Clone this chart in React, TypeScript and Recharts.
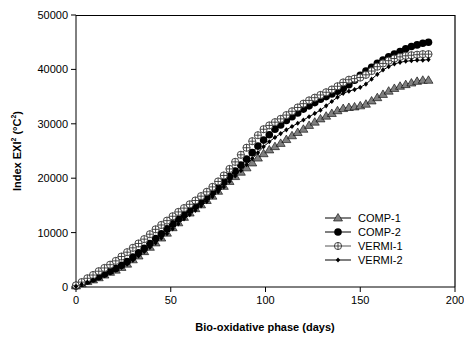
import React from "react";
import { LineChart, Line, XAxis, YAxis } from "recharts";

// days of the bio-oxidative phase, sampled every 3 days
const days = [
  0, 3, 6, 9, 12, 15, 18, 21, 24, 27, 30, 33, 36, 39, 42, 45, 48, 51, 54, 57,
  60, 63, 66, 69, 72, 75, 78, 81, 84, 87, 90, 93, 96, 99, 102, 105, 108, 111,
  114, 117, 120, 123, 126, 129, 132, 135, 138, 141, 144, 147, 150, 153, 156,
  159, 162, 165, 168, 171, 174, 177, 180, 183, 186,
];

const comp1 = [
  200, 600, 1000, 1300, 1700, 2200, 2700, 3100, 3600, 4200, 5000, 5700, 6500,
  7300, 8100, 9000, 9900, 10900, 11800, 12800, 13600, 14400, 15100, 15900,
  16700, 17600, 18500, 19400, 20300, 21100, 21900, 22800, 23700, 24500, 25200,
  25800, 26400, 27100, 27800, 28400, 29000, 29700, 30300, 30900, 31400, 31900,
  32400, 32800, 33000, 33100, 33300, 33600, 34200, 34800, 35400, 36000, 36500,
  36900, 37200, 37500, 37800, 38000, 38000,
];

const comp2 = [
  200, 700, 1100, 1500, 1900, 2400, 2900, 3400, 4000, 4700, 5500, 6300, 7100,
  8000, 8900, 9800, 10700, 11600, 12500, 13300, 14100, 14900, 15700, 16500,
  17400, 18300, 19300, 20300, 21300, 22400, 23500, 24700, 25900, 27000, 28000,
  29000, 29800, 30600, 31300, 32000, 32700, 33300, 33900, 34500, 35000, 35500,
  36000, 36500, 37200, 38000, 38900, 39700, 40400, 41100, 41700, 42300, 42800,
  43300, 43800, 44200, 44500, 44800, 45000,
];

const vermi1 = [
  300, 900, 1600, 2200, 2900, 3500, 4100, 4800, 5600, 6400, 7200, 8000, 8800,
  9700, 10600, 11400, 12200, 13000, 13800, 14500, 15200, 15900, 16700, 17500,
  18400, 19400, 20500, 21700, 23000, 24300, 25600, 26800, 27900, 29000, 29700,
  30300, 30900, 31600, 32300, 33000, 33700, 34300, 34800, 35300, 35800, 36300,
  36900, 37600, 38100, 38300, 38500, 39000, 39700, 40500, 41100, 41600, 42000,
  42300, 42500, 42600, 42700, 42800, 42800,
];

const vermi2 = [
  100, 500, 900, 1300, 1700, 2100, 2600, 3100, 3600, 4200, 4900, 5700, 6500,
  7300, 8100, 9000, 9800, 10700, 11600, 12500, 13300, 14100, 14900, 15700,
  16600, 17500, 18400, 19400, 20400, 21400, 22500, 23600, 24700, 25800, 26700,
  27500, 28200, 28900, 29500, 30100, 30700, 31300, 31900, 32500, 33300, 34100,
  34900, 35600, 36000, 36300, 36700, 37300, 38200, 39100, 39900, 40500, 41000,
  41300, 41500, 41600, 41700, 41700, 41800,
];

const xTicks = [0, 50, 100, 150, 200];
const yTicks = [0, 10000, 20000, 30000, 40000, 50000];

const FONT = "'Liberation Sans', Arial, sans-serif";

const rows = days.map((d, i) => ({
  day: d,
  comp1: comp1[i],
  comp2: comp2[i],
  vermi1: vermi1[i],
  vermi2: vermi2[i],
}));

function Marker({ kind, cx, cy }: { kind: string; cx: number; cy: number }) {
  if (kind === "comp1") {
    return (
      <polygon
        points={`${cx},${cy - 4.5} ${cx - 4.5},${cy + 3} ${cx + 4.5},${cy + 3}`}
        fill="#7f7f7f"
        stroke="#000"
        strokeWidth={0.6}
      />
    );
  }
  if (kind === "comp2") {
    return <circle cx={cx} cy={cy} r={3.8} fill="#000" />;
  }
  if (kind === "vermi1") {
    return (
      <g stroke="#333" strokeWidth={0.9} fill="#fff">
        <circle cx={cx} cy={cy} r={3.6} />
        <line x1={cx - 3.6} y1={cy} x2={cx + 3.6} y2={cy} />
        <line x1={cx} y1={cy - 3.6} x2={cx} y2={cy + 3.6} />
      </g>
    );
  }
  return (
    <polygon
      points={`${cx},${cy - 2.6} ${cx + 2.2},${cy} ${cx},${cy + 2.6} ${cx - 2.2},${cy}`}
      fill="#000"
    />
  );
}

const dotFor = (kind: string) => (p: any) =>
  (
    <g key={`${kind}-${p.index}`}>
      <Marker kind={kind} cx={p.cx} cy={p.cy} />
    </g>
  );

const series = [
  { key: "comp1", name: "COMP-1", stroke: "#000" },
  { key: "comp2", name: "COMP-2", stroke: "#000" },
  { key: "vermi1", name: "VERMI-1", stroke: "#555" },
  { key: "vermi2", name: "VERMI-2", stroke: "#000" },
];

function LegendBox() {
  return (
    <div
      style={{
        position: "absolute",
        left: 324,
        top: 211,
        fontFamily: FONT,
        fontSize: 11,
        color: "#000",
      }}
    >
      {series.map((s) => (
        <div
          key={s.key}
          style={{ display: "flex", alignItems: "center", height: 14 }}
        >
          <svg width={30} height={12}>
            <line x1={1} y1={6} x2={27} y2={6} stroke={s.stroke} />
            <Marker kind={s.key} cx={14} cy={6} />
          </svg>
          <span style={{ marginLeft: 4 }}>{s.name}</span>
        </div>
      ))}
    </div>
  );
}

function YTitle() {
  return (
    <text
      x={17}
      y={151}
      transform="rotate(-90, 17, 151)"
      textAnchor="middle"
      dominantBaseline="central"
      fontFamily={FONT}
      fontSize={11}
      fontWeight="bold"
      fill="#000"
    >
      <tspan>Index EXI</tspan>
      <tspan dy={-4} fontSize={7}>2</tspan>
      <tspan dy={4}> (°C</tspan>
      <tspan dy={-4} fontSize={7}>2</tspan>
      <tspan dy={4}>)</tspan>
    </text>
  );
}

function XTitle() {
  return (
    <text
      x={265}
      y={327}
      textAnchor="middle"
      dominantBaseline="central"
      fontFamily={FONT}
      fontSize={11}
      fontWeight="bold"
      fill="#000"
    >
      Bio-oxidative phase (days)
    </text>
  );
}

export default function App() {
  return (
    <div
      style={{
        position: "absolute",
        left: 0,
        top: 0,
        width: 464,
        height: 338,
        background: "#fff",
      }}
    >
      <LineChart
        width={464}
        height={338}
        data={rows}
        margin={{ top: 15, right: 9, bottom: 21, left: 0 }}
      >
        <XAxis
          dataKey="day"
          type="number"
          domain={[0, 200]}
          ticks={xTicks}
          height={30}
          tickSize={5}
          tickMargin={4}
          axisLine={{ stroke: "#000" }}
          tickLine={{ stroke: "#000" }}
          tick={{ fontSize: 11, fill: "#000", fontFamily: FONT }}
          label={{ content: () => <XTitle /> }}
        />
        <YAxis
          type="number"
          domain={[0, 50000]}
          ticks={yTicks}
          width={76}
          tickSize={5}
          tickMargin={3}
          axisLine={{ stroke: "#000" }}
          tickLine={{ stroke: "#000" }}
          tick={{ fontSize: 11, fill: "#000", fontFamily: FONT }}
          label={{ content: () => <YTitle /> }}
        />
        {series.map((s) => (
          <Line
            key={s.key}
            dataKey={s.key}
            name={s.name}
            type="linear"
            stroke={s.stroke}
            strokeWidth={1}
            dot={dotFor(s.key)}
            activeDot={false}
            isAnimationActive={false}
          />
        ))}
      </LineChart>
      {/* frame: top and right edges of the plot box */}
      <svg
        width={464}
        height={338}
        style={{ position: "absolute", left: 0, top: 0, pointerEvents: "none" }}
      >
        <polyline
          points="76,15.5 455,15.5 455,287"
          fill="none"
          stroke="#000"
          strokeWidth={1.2}
        />
      </svg>
      <LegendBox />
    </div>
  );
}
